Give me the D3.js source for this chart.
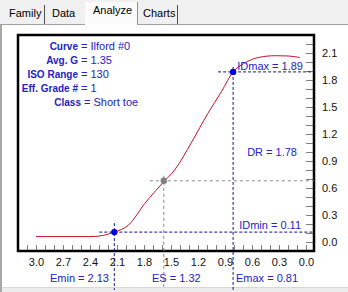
<!DOCTYPE html>
<html>
<head>
<meta charset="utf-8">
<script src="https://cdn.jsdelivr.net/npm/d3@7"></script>
<style>
  body { margin: 0; background: #ffffff; }
  svg text { font-family: "Liberation Sans", Arial, sans-serif; }
</style>
</head>
<body>
<div id="chart"></div>
<script>
// curve data (log exposure, density)
const curveLogE = [3.00, 2.70, 2.40, 2.31, 2.13, 1.97, 1.79, 1.58, 1.46, 1.27, 1.09, 0.94, 0.81, 0.68, 0.53, 0.34, 0.20, 0.07];
const curveD    = [0.06, 0.06, 0.06, 0.065, 0.11, 0.19, 0.43, 0.67, 0.80, 1.11, 1.43, 1.67, 1.89, 1.99, 2.05, 2.07, 2.067, 2.05];

// key points
const minPoint = {logE: 2.13, d: 0.11};
const maxPoint = {logE: 0.81, d: 1.89};
const esPoint  = {logE: 1.58, d: 0.68};

// tick labels
const xTickLabels = ["3.0", "2.7", "2.4", "2.1", "1.8", "1.5", "1.2", "0.9", "0.6", "0.3", "0.0"];
const yTickLabels = ["0.0", "0.3", "0.6", "0.9", "1.2", "1.5", "1.8", "2.1"];

// info block
const infoKeys   = ["Curve", "Avg. G", "ISO Range", "Eff. Grade #", "Class"];
const infoValues = ["Ilford #0", "1.35", "130", "1", "Short toe"];

// tabs
const tabNames = ["Family", "Data", "Analyze", "Charts"];

const W = 348, H = 292;
const box = {left: 18, right: 314, top: 35, bottom: 251};
const blue = "#2323c8", dashBlue = "#14148f";

const svg = d3.select("#chart").append("svg")
    .attr("width", W)
    .attr("height", H);

// window background
svg.append("rect").attr("width", W).attr("height", 25).attr("fill", "#f0f0f0");
svg.append("rect").attr("y", 287).attr("width", W).attr("height", 5).attr("fill", "#ececec");
svg.append("line").attr("x1", 0).attr("x2", W).attr("y1", 287.5).attr("y2", 287.5).attr("stroke", "#d8d8d8");
svg.append("rect").attr("x", 0).attr("y", 24).attr("width", 2).attr("height", H - 24).attr("fill", "#a8a8a8");

// tab strip
const tabX = [9, 52, 93, 143];
const tabSep = [44, 137, 177];
svg.append("line").attr("x1", 0).attr("x2", 85).attr("y1", 24.5).attr("y2", 24.5).attr("stroke", "#a0a0a0");
svg.append("line").attr("x1", 137).attr("x2", W).attr("y1", 24.5).attr("y2", 24.5).attr("stroke", "#a0a0a0");
svg.append("rect").attr("x", 85).attr("y", 2).attr("width", 52).attr("height", 23).attr("fill", "#fbfbfb");
tabSep.forEach(function(sx, i) {
  svg.append("line")
    .attr("x1", sx + 0.5).attr("x2", sx + 0.5)
    .attr("y1", i == 1 ? 2 : 5).attr("y2", 24)
    .attr("stroke", i == 1 ? "#909090" : "#505050");
});
svg.selectAll(".tab")
  .data(tabNames)
  .enter()
  .append("text")
    .attr("x", (d, i) => tabX[i])
    .attr("y", (d, i) => i == 2 ? 14 : 16.5)
    .attr("font-size", "11px")
    .attr("fill", "#000")
    .text(d => d);

// scales
const x = d3.scaleLinear().domain([3, 0]).range([36, 306]);
const y = d3.scaleLinear().domain([0, 2.1]).range([242, 53]);

// bottom axis, ticks inside
const xMinor = d3.range(0, 32).map(i => i / 10);
const xAxis = svg.append("g")
  .attr("transform", `translate(0, ${box.bottom})`)
  .call(d3.axisBottom(x)
    .tickValues(xMinor)
    .tickSize(-6)
    .tickPadding(7)
    .tickFormat(d => {
      const s = d.toFixed(1);
      return xTickLabels.includes(s) && Math.round(d * 10) % 3 == 0 ? s : "";
    }));
xAxis.select(".domain").remove();
xAxis.selectAll("line").attr("stroke", "#808080");
xAxis.selectAll("text").attr("font-size", "11px").attr("fill", "#111")
  .attr("font-family", "Liberation Sans, Arial, sans-serif");

// right axis, ticks inside
const yMinor = d3.range(0, 23).map(i => i / 10);
const yAxis = svg.append("g")
  .attr("transform", `translate(${box.right}, 0)`)
  .call(d3.axisRight(y)
    .tickValues(yMinor)
    .tickSize(-8)
    .tickPadding(8)
    .tickFormat(d => {
      const s = d.toFixed(1);
      return yTickLabels.includes(s) && Math.round(d * 10) % 3 == 0 ? s : "";
    }));
yAxis.select(".domain").remove();
yAxis.selectAll("line").attr("stroke", "#808080");
yAxis.selectAll("text").attr("font-size", "11px").attr("fill", "#111")
  .attr("font-family", "Liberation Sans, Arial, sans-serif");

// frame
svg.append("rect")
  .attr("x", box.left).attr("y", box.top)
  .attr("width", box.right - box.left).attr("height", box.bottom - box.top)
  .attr("fill", "none")
  .attr("stroke", "#000")
  .attr("stroke-width", 2.5);

// reference lines
function dashLine(x1, y1, x2, y2, color, dash) {
  svg.append("line")
    .attr("x1", x1).attr("y1", y1).attr("x2", x2).attr("y2", y2)
    .attr("stroke", color)
    .attr("stroke-width", 1)
    .attr("stroke-dasharray", dash);
}
dashLine(x(esPoint.logE) - 14, y(esPoint.d), box.right, y(esPoint.d), "#888", "3,3");
dashLine(x(esPoint.logE), y(esPoint.d) - 5, x(esPoint.logE), 288, "#888", "3,3");
dashLine(x(maxPoint.logE) - 15, y(maxPoint.d), box.right, y(maxPoint.d), dashBlue, "3,2");
dashLine(x(maxPoint.logE), y(maxPoint.d) - 5, x(maxPoint.logE), 290, dashBlue, "3,2");
dashLine(x(minPoint.logE) - 15, y(minPoint.d), box.right, y(minPoint.d), dashBlue, "3,2");
dashLine(x(minPoint.logE), y(minPoint.d) - 9, x(minPoint.logE), 290, dashBlue, "3,2");

// curve
const line = d3.line()
  .x((d, i) => x(curveLogE[i]))
  .y(d => y(d))
  .curve(d3.curveMonotoneX);
svg.append("path")
  .datum(curveD)
  .attr("d", line)
  .attr("fill", "none")
  .attr("stroke", "#c8102e")
  .attr("stroke-width", 1);

// points
svg.append("circle").attr("cx", x(esPoint.logE)).attr("cy", y(esPoint.d)).attr("r", 3.2).attr("fill", "#808080");
[minPoint, maxPoint].forEach(function(p) {
  svg.append("circle").attr("cx", x(p.logE)).attr("cy", y(p.d)).attr("r", 3.2).attr("fill", "#0000e0");
});

// point labels
function label(txt, px, py, anchor) {
  svg.append("text")
    .attr("x", px).attr("y", py)
    .attr("text-anchor", anchor)
    .attr("font-size", "11px")
    .attr("fill", blue)
    .text(txt);
}
label("IDmax = " + maxPoint.d.toFixed(2), 303, 70, "end");
label("DR = " + (maxPoint.d - minPoint.d).toFixed(2), 297, 156, "end");
label("IDmin = " + minPoint.d.toFixed(2), 301, 229, "end");
label("Emin = " + minPoint.logE.toFixed(2), 109, 282, "end");
label("ES = 1.32", 152, 282, "start");
label("Emax = " + maxPoint.logE.toFixed(2), 236, 282, "start");

// info block
infoKeys.forEach(function(k, i) {
  const ty = 50 + i * 14.1;
  const ex = i == 4 ? 81 : 78;
  svg.append("text")
    .attr("x", ex).attr("y", ty)
    .attr("text-anchor", "end")
    .attr("font-size", "10px")
    .attr("font-weight", "bold")
    .attr("fill", blue)
    .text(k);
  svg.append("text")
    .attr("x", ex + 3).attr("y", ty)
    .attr("font-size", "11px")
    .attr("fill", blue)
    .text("= " + infoValues[i]);
});
</script>
</body>
</html>
